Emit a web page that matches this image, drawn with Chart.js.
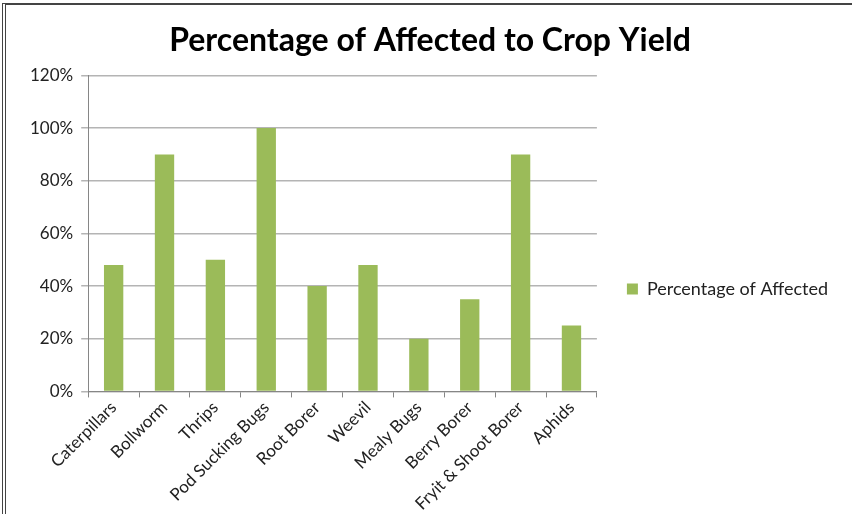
<!DOCTYPE html>
<html>
<head>
<meta charset="utf-8">
<script src="https://cdn.jsdelivr.net/npm/chart.js@4/dist/chart.umd.min.js"></script>
<style>
  body { margin: 0; background: #fff; overflow: hidden; font-family: Lato; }
  #frame { position: absolute; left: 2px; top: 3px; width: 846px; height: 520px;
           border-left: 4px double #444; border-top: 2px solid #444; border-right: 2px solid #444; }
  #wrap { position: absolute; left: 16px; top: 8px; width: 840px; height: 506px; }
</style>
</head>
<body>
<div id="frame"></div>
<div id="wrap"><canvas id="myChart"></canvas></div>
<script>
const categories = ['Caterpillars', 'Bollworm', 'Thrips', 'Pod Sucking Bugs', 'Root Borer', 'Weevil', 'Mealy Bugs', 'Berry Borer', 'Fryit & Shoot Borer', 'Aphids'];
const affected = [48, 90, 50, 100, 40, 48, 20, 35, 90, 25];
const seriesName = 'Percentage of Affected';

// push the legend down a bit, like the original sheet
const legendShift = {
    id: 'legendShift',
    afterLayout(chart) {
        const lg = chart.legend;
        if (!lg) return;
        lg.top += 28; lg.bottom += 28;
    }
};

const drawChart = () => {
    var ctx = document.getElementById('myChart').getContext('2d');
    var chart = new Chart(ctx, {
        type: 'bar',
        data: {
            labels: categories,
            datasets: [{
                label: seriesName,
                data: affected,
                backgroundColor: '#9bbb59',
                barPercentage: 0.38,
                categoryPercentage: 1
            }]
        },
        options: {
            responsive: true,
            maintainAspectRatio: false,
            animation: false,
            layout: { padding: { left: 6, right: 18, bottom: 0 } },
            plugins: {
                title: {
                    display: true,
                    text: 'Percentage of Affected to Crop Yield',
                    color: '#000',
                    font: { family: 'Lato', size: 32, weight: 'bold' },
                    padding: { top: 13, bottom: 16 }
                },
                legend: {
                    position: 'right',
                    maxWidth: 300, // default cap is too narrow for the label
                    labels: {
                        boxWidth: 11, boxHeight: 11,
                        color: '#222',
                        font: { family: 'Lato', size: 18 },
                        padding: 30
                    }
                },
                tooltip: { enabled: false }
            },
            scales: {
                x: {
                    grid: { drawOnChartArea: false, drawTicks: true, tickLength: 6, color: '#868686', offset: true },
                    border: { color: '#868686' },
                    ticks: {
                        color: '#222', font: { family: 'Lato', size: 17 },
                        maxRotation: 45, minRotation: 45, padding: 0
                    }
                },
                y: {
                    min: 0, max: 120,
                    grid: { color: '#b4b4b4', tickLength: 7, lineWidth: 1.5 },
                    border: { color: '#868686' },
                    ticks: {
                        stepSize: 20,
                        color: '#222', font: { family: 'Lato', size: 17 },
                        padding: 8,
                        callback: v => v + '%'
                    }
                }
            }
        },
        plugins: [legendShift]
    });
}

Promise.all([
    document.fonts.load('18px Lato'),
    document.fonts.load('bold 32px Lato')
]).catch(() => {}).then(drawChart);
</script>
</body>
</html>
